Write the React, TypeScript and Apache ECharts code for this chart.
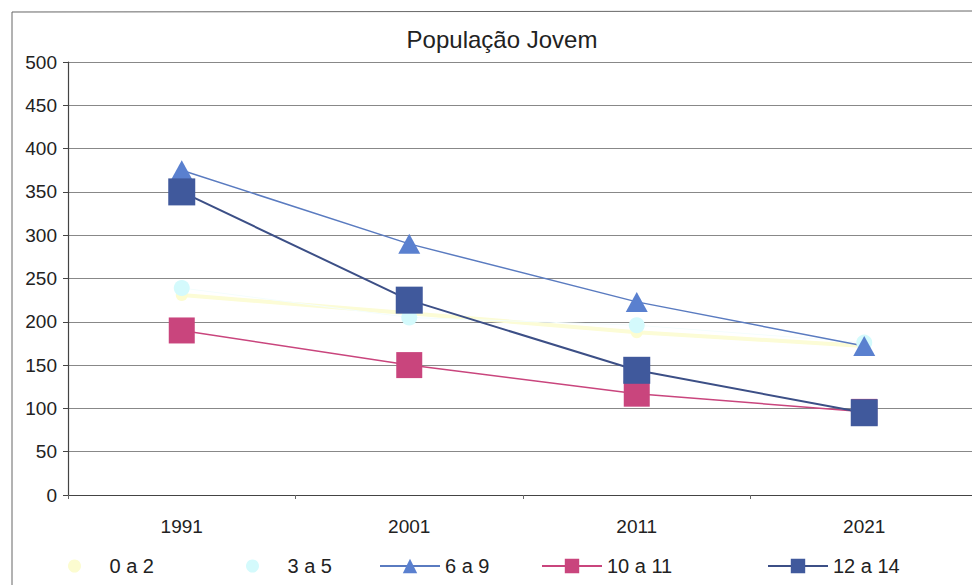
import React, { useEffect, useRef } from "react";
import * as echarts from "echarts";

const years = ["1991", "2001", "2011", "2021"];
const s0a2 = [231, 210, 188, 172];
const s3a5 = [239, 205, 196, 176];
const s6a9 = [375, 290, 223, 172];
const s10a11 = [190, 150, 117, 96];
const s12a14 = [350, 225, 144, 95];

const FONT = "Liberation Sans, Arial, sans-serif";

export default function App() {
  const ref = useRef<HTMLDivElement>(null);
  useEffect(() => {
    if (!ref.current) return;
    const chart = echarts.init(ref.current, undefined, { renderer: "svg" });
    const legendText = { fontSize: 20, color: "#222", fontFamily: FONT };
    const mkLegend = (name: string, left: number, icon?: string) => ({
      data: [icon ? { name, icon } : { name }],
      left,
      top: 551,
      itemWidth: 60,
      itemHeight: icon ? 13 : 18,
      itemGap: 4,
      textStyle: legendText,
    });
    chart.setOption({
      animation: false,
      backgroundColor: "#ffffff",
      title: {
        text: "População Jovem",
        left: 497,
        textAlign: "center",
        top: 22,
        textStyle: { fontSize: 24, fontWeight: "normal", color: "#222", fontFamily: FONT },
      },
      legend: [
        mkLegend("0 a 2", 63, "circle"),
        mkLegend("3 a 5", 241, "circle"),
        mkLegend("6 a 9", 374),
        mkLegend("10 a 11", 536),
        mkLegend("12 a 14", 762),
      ],
      grid: { left: 68, width: 910, top: 62, height: 433, outerBoundsMode: "none" },
      xAxis: {
        type: "category",
        data: years,
        boundaryGap: true,
        axisLine: { lineStyle: { color: "#444", width: 1.2 } },
        axisTick: { show: true, length: 4, lineStyle: { color: "#666" } },
        axisLabel: { fontSize: 19, color: "#222", margin: 22, fontFamily: FONT },
      },
      yAxis: {
        type: "value",
        min: 0,
        max: 500,
        interval: 50,
        axisLine: { show: true, lineStyle: { color: "#444", width: 1.2 } },
        axisTick: { show: true, length: 5, lineStyle: { color: "#444" } },
        axisLabel: { fontSize: 19, color: "#222", margin: 11, fontFamily: FONT },
        splitLine: { lineStyle: { color: "#888", width: 1 } },
      },
      series: [
        {
          name: "0 a 2",
          type: "line",
          data: s0a2,
          symbol: "circle",
          symbolSize: 12,
          itemStyle: { color: "#fcfcd0" },
          lineStyle: { color: "#fcfcd6", width: 4 },
        },
        {
          name: "3 a 5",
          type: "line",
          data: s3a5,
          symbol: "circle",
          symbolSize: 16,
          itemStyle: { color: "#d4fafc" },
          lineStyle: { color: "#f4fdfd", width: 1 },
        },
        {
          name: "6 a 9",
          type: "line",
          data: s6a9,
          symbol: "triangle",
          symbolSize: [22, 20],
          itemStyle: { color: "#5a80cf" },
          lineStyle: { color: "#5a7bc0", width: 1.5 },
        },
        {
          name: "10 a 11",
          type: "line",
          data: s10a11,
          symbol: "rect",
          symbolSize: 26,
          itemStyle: { color: "#c9457d" },
          lineStyle: { color: "#c9457d", width: 1.5 },
        },
        {
          name: "12 a 14",
          type: "line",
          data: s12a14,
          symbol: "rect",
          symbolSize: 27,
          itemStyle: { color: "#40599c" },
          lineStyle: { color: "#3c4f86", width: 2 },
        },
      ],
      graphic: [
        {
          type: "line",
          shape: { x1: 12, y1: 12, x2: 972, y2: 11 },
          style: { stroke: "#666", lineWidth: 1 },
        },
        {
          type: "line",
          shape: { x1: 12, y1: 12, x2: 12, y2: 585 },
          style: { stroke: "#666", lineWidth: 1 },
        },
      ],
    });
    return () => chart.dispose();
  }, []);
  return (
    <div
      ref={ref}
      style={{ position: "fixed", left: 0, top: 0, width: 972, height: 585 }}
    />
  );
}
